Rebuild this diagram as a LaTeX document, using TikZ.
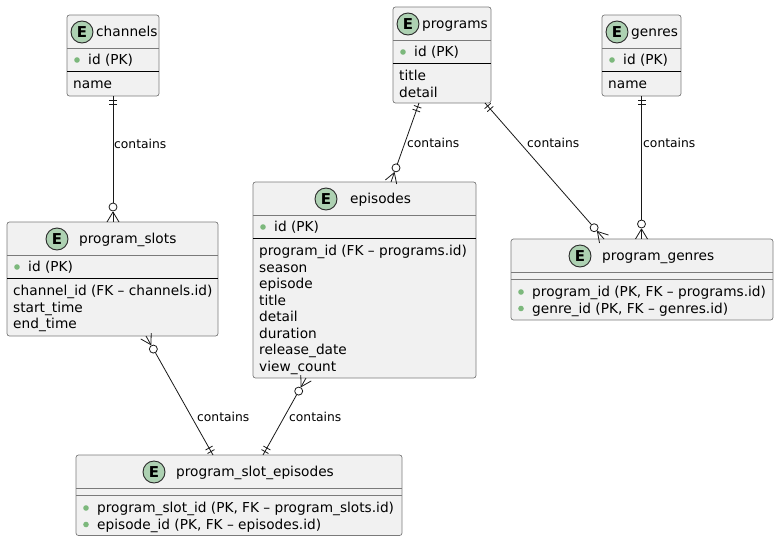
\documentclass[tikz,border=0pt]{standalone}
\usepackage{fontspec}
\setmainfont{DejaVu Sans}
\usetikzlibrary{calc}
\definecolor{entfill}{HTML}{F1F1F1}
\definecolor{bordergray}{HTML}{7A7A7A}
\definecolor{efill}{HTML}{ADD1B2}
\definecolor{edraw}{HTML}{2A2A2A}
\definecolor{pkgreen}{HTML}{7CB87C}
\definecolor{linecol}{HTML}{181818}
\newcommand{\crowlink}[2]{%
  \draw[conn] (#1) -- ($(#2)!19pt!(#1)$);
  \draw[conn] ($(#2)!15pt!(#1)$) circle[radius=4pt];
  \coordinate (tmpApex) at ($(#2)!10pt!(#1)$);
  \draw[conn] (tmpApex) -- (#2);
  \draw[conn] (tmpApex) -- ($(#2)!6pt!90:(#1)$);
  \draw[conn] (tmpApex) -- ($(#2)!6pt!-90:(#1)$);
  \coordinate (tmpBa) at ($(#1)!4pt!(#2)$);
  \coordinate (tmpBb) at ($(#1)!8pt!(#2)$);
  \draw[conn] ($(tmpBa)!4pt!90:(#2)$) -- ($(tmpBa)!4pt!-90:(#2)$);
  \draw[conn] ($(tmpBb)!4pt!90:(#2)$) -- ($(tmpBb)!4pt!-90:(#2)$);
}
\begin{document}
\begin{tikzpicture}[x=1pt,y=-1pt,
  entity/.style={draw=bordergray, fill=entfill, rounded corners=2.5pt, line width=0.7pt, inner sep=0pt, outer sep=0pt},
  ecirc/.style={circle, draw=edraw, fill=efill, line width=0.9pt, minimum size=22pt, inner sep=0pt, font=\fontsize{15}{15}\selectfont\bfseries},
  title/.style={anchor=base west, inner sep=0pt, font=\fontsize{13.7}{16}\selectfont},
  attr/.style={anchor=base west, inner sep=0pt, font=\fontsize{13.7}{16}\selectfont},
  lbl/.style={anchor=base west, inner sep=0pt, font=\fontsize{12.3}{14}\selectfont},
  sepg/.style={draw=bordergray, line width=0.7pt},
  sepk/.style={draw=black, line width=0.8pt},
  pk/.style={fill=pkgreen},
  conn/.style={draw=linecol, line width=0.8pt}]
\useasboundingbox (0,0) rectangle (778,541);

% channels
\node[entity, minimum width=92pt, minimum height=81pt] (channels) at (113,55.5) {};
\node[ecirc] (chE) at (82,32) {E};
\node[title] (chT) at (96,36.5) {channels};
\draw[sepg] (67,48) -- (159,48);
\fill[pk] (77,60) circle[radius=2.8pt];
\node[attr] (chId) at (88,64.5) {id (PK)};
\draw[sepk] (67,71) -- (159,71);
\node[attr] (chName) at (73,88.5) {name};

% programs
\node[entity, minimum width=98pt, minimum height=96pt] (programs) at (442,55) {};
\node[ecirc] (prE) at (408,24) {E};
\node[title] (prT) at (422,28.5) {programs};
\draw[sepg] (393,40) -- (491,40);
\fill[pk] (403,52) circle[radius=2.8pt];
\node[attr] (prId) at (414,56.5) {id (PK)};
\draw[sepk] (393,63) -- (491,63);
\node[attr] (prTitle) at (399,80.5) {title};
\node[attr] (prDetail) at (399,97) {detail};

% genres
\node[entity, minimum width=79pt, minimum height=81pt] (genres) at (641.5,55.5) {};
\node[ecirc] (geE) at (617,32) {E};
\node[title] (geT) at (631,36.5) {genres};
\draw[sepg] (602,48) -- (681,48);
\fill[pk] (612,60) circle[radius=2.8pt];
\node[attr] (geId) at (623,64.5) {id (PK)};
\draw[sepk] (602,71) -- (681,71);
\node[attr] (geName) at (608,88.5) {name};

% program_slots
\node[entity, minimum width=211pt, minimum height=114pt] (program_slots) at (112.5,279) {};
\node[ecirc] (psE) at (57,239) {E};
\node[title] (psT) at (79,243.5) {program\_slots};
\draw[sepg] (7,255) -- (218,255);
\fill[pk] (17,267) circle[radius=2.8pt];
\node[attr] (psId) at (28,271.5) {id (PK)};
\draw[sepk] (7,278) -- (218,278);
\node[attr] (psA) at (13,295.5) {channel\_id (FK – channels.id)};
\node[attr] (psB) at (13,312) {start\_time};
\node[attr] (psC) at (13,328.5) {end\_time};

% episodes
\node[entity, minimum width=223pt, minimum height=196pt] (episodes) at (364.5,280) {};
\node[ecirc] (epE) at (326,199) {E};
\node[title] (epT) at (350,203.5) {episodes};
\draw[sepg] (253,215) -- (476,215);
\fill[pk] (263,227) circle[radius=2.8pt];
\node[attr] (epId) at (274,231.5) {id (PK)};
\draw[sepk] (253,238) -- (476,238);
\node[attr] (epA) at (259,255.5) {program\_id (FK – programs.id)};
\node[attr] (epB) at (259,272) {season};
\node[attr] (epC) at (259,288.5) {episode};
\node[attr] (epD) at (259,305) {title};
\node[attr] (epF) at (259,321.5) {detail};
\node[attr] (epG) at (259,338) {duration};
\node[attr] (epH) at (259,354.5) {release\_date};
\node[attr] (epI) at (259,371) {view\_count};

% program_genres
\node[entity, minimum width=262pt, minimum height=81pt] (program_genres) at (642,279.5) {};
\node[ecirc] (pgE) at (580,256) {E};
\node[title] (pgT) at (602,260.5) {program\_genres};
\draw[sepg] (511,272) -- (773,272);
\draw[sepg] (511,279) -- (773,279);
\fill[pk] (521,292) circle[radius=2.8pt];
\node[attr] (pgA) at (532,296.5) {program\_id (PK, FK – programs.id)};
\fill[pk] (521,308.5) circle[radius=2.8pt];
\node[attr] (pgB) at (532,313) {genre\_id (PK, FK – genres.id)};

% program_slot_episodes
\node[entity, minimum width=326pt, minimum height=80.5pt] (pse) at (239,495.25) {};
\node[ecirc] (pseE) at (154,472) {E};
\node[title] (pseT) at (176,476.5) {program\_slot\_episodes};
\draw[sepg] (76,488) -- (402,488);
\draw[sepg] (76,495) -- (402,495);
\fill[pk] (86,508) circle[radius=2.8pt];
\node[attr] (pseA) at (97,512.5) {program\_slot\_id (PK, FK – program\_slots.id)};
\fill[pk] (86,524.5) circle[radius=2.8pt];
\node[attr] (pseB) at (97,529) {episode\_id (PK, FK – episodes.id)};

% connector end points
\coordinate (c1a) at (channels.south);
\coordinate (c1b) at (program_slots.north -| channels.south);
\coordinate (c2a) at ($(programs.south west)+(26,0)$);
\coordinate (c2b) at ($(episodes.north west)+(138,0)$);
\coordinate (c3a) at ($(programs.south west)+(92,0)$);
\coordinate (c3b) at ($(program_genres.north west)+(93,0)$);
\coordinate (c4a) at (genres.south);
\coordinate (c4b) at (program_genres.north -| genres.south);
\coordinate (c5b) at ($(program_slots.south west)+(139,0)$);
\coordinate (c5a) at ($(pse.north west)+(137,0)$);
\coordinate (c6b) at ($(episodes.south west)+(53,0)$);
\coordinate (c6a) at ($(pse.north west)+(187,0)$);

\crowlink{c1a}{c1b}
\crowlink{c2a}{c2b}
\crowlink{c3a}{c3b}
\crowlink{c4a}{c4b}
\crowlink{c5a}{c5b}
\crowlink{c6a}{c6b}

\node[lbl] (l1) at (114,148) {contains};
\node[lbl] (l2) at (407,147) {contains};
\node[lbl] (l3) at (527,147) {contains};
\node[lbl] (l4) at (643,147) {contains};
\node[lbl] (l5) at (197,421) {contains};
\node[lbl] (l6) at (289,421) {contains};
\end{tikzpicture}
\end{document}
